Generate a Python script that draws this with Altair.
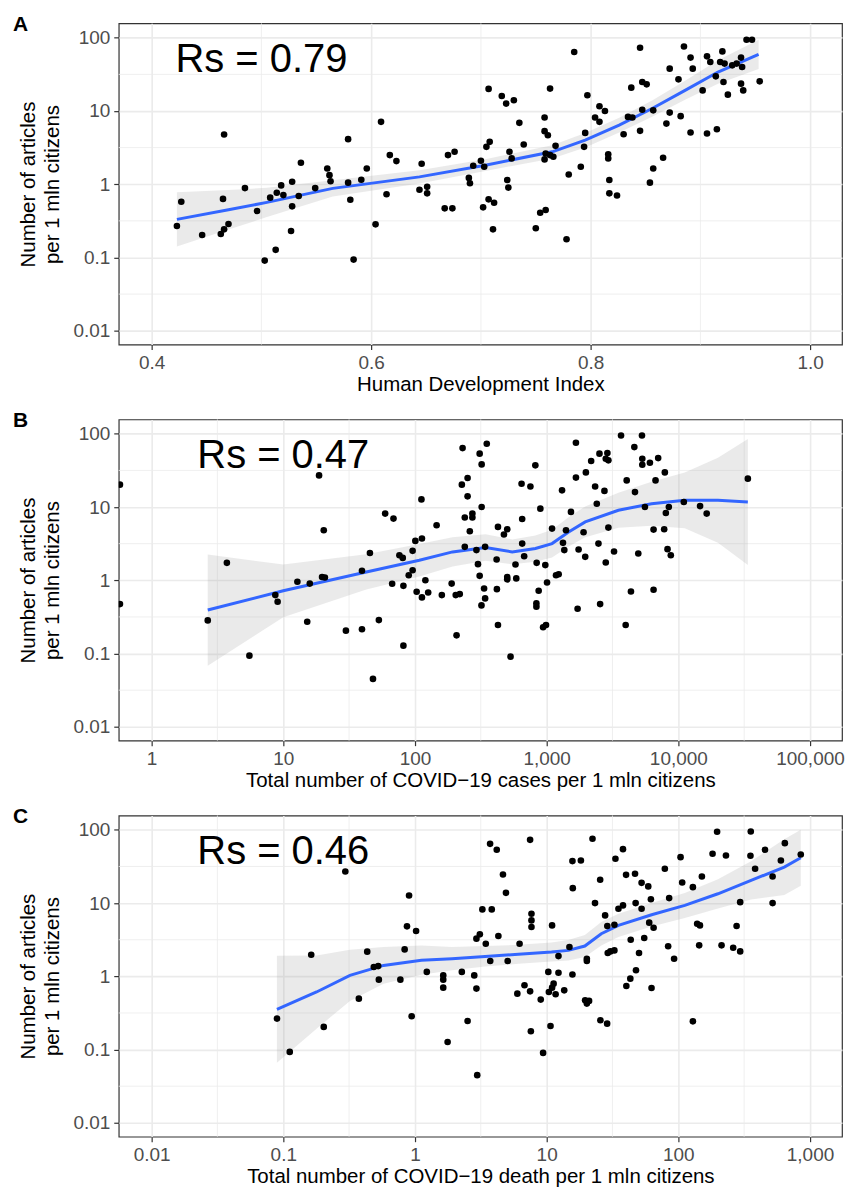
import altair as alt
import pandas as pd

FONT = "Liberation Sans"

# ---------------- Panel A: HDI ----------------
A_hdi = [0.423, 0.427, 0.446, 0.466, 0.465, 0.463, 0.466, 0.470, 0.485, 0.496, 0.503, 0.508, 0.513, 0.514,
         0.518, 0.520, 0.528, 0.528, 0.527, 0.534, 0.536, 0.549, 0.560, 0.562, 0.563, 0.579, 0.579, 0.581,
         0.584, 0.591, 0.596, 0.604, 0.609, 0.614, 0.617, 0.623, 0.646, 0.644, 0.651, 0.651,
         0.667, 0.674, 0.670, 0.676, 0.689, 0.690, 0.693, 0.700, 0.703, 0.702, 0.707, 0.712, 0.711, 0.707,
         0.705, 0.708, 0.719, 0.723, 0.730, 0.724, 0.726, 0.725, 0.728, 0.735, 0.739, 0.750, 0.754, 0.759,
         0.758, 0.758, 0.761, 0.763, 0.759, 0.758, 0.763, 0.766, 0.768, 0.778, 0.780, 0.785, 0.791, 0.794,
         0.795, 0.797, 0.804, 0.808, 0.808, 0.813, 0.816, 0.816, 0.817, 0.817, 0.824, 0.830, 0.834, 0.838,
         0.837, 0.845, 0.847, 0.851, 0.847, 0.845, 0.857, 0.854, 0.857, 0.866, 0.869, 0.872, 0.882, 0.872,
         0.880, 0.885, 0.891, 0.893, 0.891, 0.902, 0.906, 0.906, 0.909, 0.915, 0.914, 0.920, 0.918, 0.922,
         0.921, 0.925, 0.929, 0.933, 0.937, 0.938, 0.937, 0.939, 0.942, 0.947, 0.954]
A_art = [0.269, 0.577, 0.203, 4.77, 0.63, 0.209, 0.242, 0.286, 0.885, 0.43, 0.0906, 0.655, 0.127, 0.766,
         0.964, 0.711, 1.08, 0.499, 0.230, 0.69, 1.96, 0.885, 1.64, 1.33, 1.10, 4.12, 1.05, 0.614,
         0.0935, 1.15, 1.64, 0.283, 7.1, 0.73, 2.5, 2.07, 1.90, 0.84, 0.92, 0.75,
         0.468, 0.468, 2.5, 2.77, 1.22, 1.03, 1.79, 2.09, 1.73, 0.483, 0.621, 0.559, 0.242, 20.0,
         3.24, 3.79, 16.0, 12.6, 14.0, 1.14, 2.77, 0.90, 2.25, 6.88, 3.48, 0.25, 0.408, 0.444,
         8.13, 5.3, 4.67, 20.2, 2.63, 2.18, 2.5, 2.37, 3.34, 0.177, 1.36, 63.8, 1.73, 3.24,
         5.02, 16.4, 8.13, 7.1, 11.6, 10.0, 2.57, 2.25, 1.14, 0.75, 0.70, 4.82, 8.3, 8.13,
         20.8, 73.0, 24.9, 23.1, 10.4, 5.35, 10.2, 1.05, 1.64, 2.30, 6.73, 9.5, 8.5, 37.8,
         27.0, 76.0, 53.5, 37.8, 5.08, 19.1, 4.92, 55.7, 46.6, 5.64, 29.7, 65.0, 46.6, 44.3,
         24.9, 16.7, 42.0, 44.3, 53.5, 39.8, 23.6, 19.1, 94.0, 94.0, 25.4]
A_fit_x = [0.423, 0.47, 0.505, 0.565, 0.644, 0.704, 0.765, 0.795, 0.826, 0.856, 0.886, 0.916, 0.953]
A_fit_y = [0.331, 0.447, 0.565, 0.877, 1.26, 1.82, 2.77, 4.0, 6.4, 10.8, 19.1, 34.0, 59.3]
A_fit_lo = [0.141, 0.240, 0.356, 0.681, 1.02, 1.52, 2.25, 3.17, 5.08, 8.37, 14.2, 23.6, 37.4]
A_fit_hi = [0.776, 0.832, 0.895, 1.13, 1.55, 2.19, 3.40, 5.02, 8.05, 13.9, 25.8, 49.2, 94.0]

# ---------------- Panel B: cases ----------------
B_cases = [0.575, 0.575, 2.67, 3.73, 5.53, 8.7, 9.06, 12.8, 15.9, 15.2, 18.7, 20.3, 19.7, 20.7, 29.9, 39.6,
           39.6, 45.5, 48, 53.2, 59.4, 68.7, 67.1, 76.2, 80.8, 81.7, 81.7, 89.7, 96, 96, 100.7, 113, 112,
           120, 103, 113, 126,
           146, 160, 190, 207, 204, 219, 230, 227, 251, 251, 239, 273, 273, 261, 239, 293, 301, 310, 351,
           321, 321, 310, 335, 341, 320, 341, 417, 419, 427, 427, 474, 502, 502, 502, 532, 580, 588, 645,
           652, 652, 675, 753, 821, 840, 870, 836, 836, 896, 977, 1007, 940, 989, 1099, 1178, 1234, 1309,
           1331, 1362, 1403, 1530, 1669, 1669, 1718, 1749, 1907, 1963, 1986, 2178, 2335, 2404, 2475, 2548,
           2518, 2748, 2812, 2893, 2812, 2944, 2944, 3250, 3673, 3983, 4055, 4368, 4634, 4687, 4966, 5297,
           5327, 5327, 5577, 6083, 7031, 6714, 6486, 6486, 7811, 7902, 8040, 8472, 8278, 8770, 11010,
           14630, 16420, 33730]
B_art = [20.2, 0.473, 0.283, 1.73, 0.0935, 0.627, 0.509, 0.953, 0.90, 0.272, 27.0, 4.82, 1.11, 1.09, 0.205,
         0.214, 1.35, 2.36, 0.045, 0.286, 8.13, 6.95, 0.896, 2.20, 2.02, 0.84, 0.128, 1.17, 1.37, 2.52,
         3.45, 3.71, 12.7, 1.0, 0.697, 0.583, 0.682,
         5.64, 0.627, 0.90, 0.177, 0.627, 0.647, 63.8, 20.2, 24.9, 14.0, 7.18, 8.13, 7.18, 4.67, 2.86,
         2.58, 1.66, 53.5, 73.0, 38.2, 10.0, 1.15, 0.773, 0.565, 0.454, 2.86, 1.92, 0.757, 0.245, 5.35,
         4.21, 4.98, 1.11, 1.03, 0.0906, 1.64, 1.06, 20.8, 6.87, 3.17, 2.13, 19.1, 37.1, 1.73, 0.718,
         0.483, 0.435, 9.5, 1.61, 0.933, 0.228, 0.245, 5.08, 1.17, 1.21, 16.9, 3.24, 2.58, 4.82, 8.57,
         75.4, 25.2, 0.408, 2.63, 4.53, 2.09, 29.7, 42.5, 19.1, 11.1, 3.17, 0.473, 53.5, 16.6, 1.75,
         54.6, 45.6, 43.4, 5.24, 2.47, 94.8, 0.245, 23.1, 0.703, 65.8, 16.0, 2.32, 94.8, 45.6, 37.8,
         10.0, 40.3, 46.6, 23.1, 4.92, 0.741, 4.98, 29.7, 8.3, 10.0, 2.66, 2.2, 11.7, 10.3, 8.13, 24.4]
B_fit_x = [2.67, 10, 42.7, 108, 193, 344, 548, 822, 1099, 1469, 1963, 3508, 6266, 11194, 20000, 33730]
B_fit_y = [0.392, 0.718, 1.30, 1.88, 2.44, 2.80, 2.44, 2.71, 3.17, 4.57, 6.27, 9.04, 11.1, 12.4, 12.4, 11.7]
B_fit_lo = [0.068, 0.313, 0.750, 1.13, 1.54, 1.85, 1.65, 1.79, 2.05, 2.88, 3.86, 5.20, 5.57, 5.15, 3.25, 1.62]
B_fit_hi = [2.25, 1.64, 2.26, 3.12, 3.87, 4.24, 3.61, 4.10, 4.91, 7.24, 10.2, 15.7, 22.2, 29.6, 47.0, 84.9]

# ---------------- Panel C: deaths ----------------
C_deaths = [0.0896, 0.112, 0.163, 0.203, 0.296, 0.375, 0.434, 0.487, 0.526, 0.532, 0.775, 0.835, 0.870,
            0.902, 0.944, 1.02, 1.23,
            1.64, 1.64, 1.64, 1.77, 2.27, 2.51, 2.82, 2.93, 2.97, 2.93, 3.11, 3.25, 3.45, 3.72, 3.83, 4.18,
            3.73, 4.30, 4.66, 4.91, 5.06, 5.99, 6.23, 6.79, 7.49, 7.49, 7.59, 7.67, 7.67, 7.67, 9.02, 9.40,
            10.3, 10.4, 10.7, 11.0, 11.0, 11.3, 11.7, 12.3, 12.3, 13.6, 14.9, 15.7, 18.2, 15.8, 15.7, 19.6,
            20.2, 21.0, 20.2, 20.2, 22.3, 23.3, 25.5, 25.6, 28.8, 27.8, 28.9, 29.1, 30.5, 32.7, 32.7, 33.3,
            35.1, 38.0, 38.0, 40.1, 40.3, 43.2, 43.5, 46.9, 47.4, 47.7, 50.3, 52.6, 52.6, 55.1, 59.1, 60.1,
            62.6, 61.9, 64.9, 79, 83.7, 85.2, 92.9, 104, 107, 129, 129, 139, 146, 144, 151, 182, 197, 213,
            230, 261, 277, 295, 295, 355, 353, 383, 455, 520, 520, 601, 644, 851]
C_art = [0.265, 0.093, 1.97, 0.204, 27.0, 0.496, 2.17, 1.34, 1.38, 0.90, 0.90, 2.33, 4.81, 12.7, 0.285,
         4.15, 1.15,
         1.03, 0.90, 0.70, 0.127, 1.15, 0.246, 1.03, 0.68, 0.0447, 3.27, 3.74, 8.2, 2.79, 64.4, 8.2, 53.4,
         1.62, 3.55, 24.6, 13.8, 1.62, 0.58, 2.79, 0.754, 0.624, 73.0, 0.178, 7.16, 5.8, 4.71, 0.481, 0.090,
         1.15, 0.611, 0.21, 4.96, 0.70, 0.794, 0.569, 1.89, 1.12, 0.644, 2.51, 37.4, 38.2, 16.0, 1.06, 0.471,
         0.424, 0.462, 1.74, 1.62, 75.4, 10.0, 20.8, 0.251, 0.226, 6.79, 4.86, 2.08, 2.19, 2.26, 5.07, 40.3,
         8.37, 9.29, 54.5, 24.3, 0.738, 0.93, 3.16, 25.1, 10.0, 1.21, 2.08, 18.9, 8.37, 3.33, 16.9, 5.4,
         0.693, 11.3, 4.61, 29.4, 2.57, 11.7, 1.74, 42.4, 19.1, 16.5, 0.243, 5.22, 4.96, 2.65, 23.1, 47.1,
         94.0, 2.65, 44.7, 2.46, 4.86, 10.3, 2.19, 94.8, 44.2, 29.4, 53.4, 23.1, 10.0, 38.2, 65.8, 46.1]
C_fit_x = [0.0895, 0.179, 0.321, 0.577, 1.12, 1.91, 3.41, 6.10, 10.9, 14.6, 19.5, 26.0, 35.1, 62.7, 112,
           200, 357, 638, 851]
C_fit_y = [0.355, 0.611, 1.03, 1.41, 1.66, 1.74, 1.87, 2.0, 2.15, 2.26, 2.59, 3.82, 4.95, 6.93, 9.29,
           13.4, 20.4, 31.0, 41.5]
C_fit_lo = [0.066, 0.193, 0.461, 0.794, 1.05, 1.21, 1.36, 1.48, 1.59, 1.64, 1.84, 2.64, 3.43, 4.80, 6.28,
            8.45, 11.2, 12.9, 17.3]
C_fit_hi = [1.91, 1.93, 2.31, 2.51, 2.63, 2.52, 2.59, 2.69, 2.90, 3.13, 3.66, 5.52, 7.16, 10.0, 13.7,
            21.2, 37.1, 74.3, 100.0]

# ---------------- axes / grids ----------------
Y_TICKS = [0.01, 0.1, 1, 10, 100]
Y_MINOR = [0.0316, 0.316, 3.16, 31.6]
Y_DOMAIN = [0.00646, 157]

A_XTICKS = [0.4, 0.6, 0.8, 1.0]
A_XMINOR = [0.5, 0.7, 0.9]
A_XDOMAIN = [0.370, 1.029]
B_XTICKS = [1, 10, 100, 1000, 10000, 100000]
B_XMINOR = [3.16, 31.6, 316, 3162, 31623]
B_XDOMAIN = [0.563, 175000]
C_XTICKS = [0.01, 0.1, 1, 10, 100, 1000]
C_XMINOR = [0.0316, 0.316, 3.16, 31.6, 316]
C_XDOMAIN = [0.00563, 1750]

W, H = 725, 322


def panel(letter, xs, ys, fx, fy, flo, fhi, xticks, xminor, xdomain, xlog, xfmt, xtitle, rs_x, rs_text):
    xscale = alt.Scale(type="log", domain=xdomain, nice=False) if xlog else \
        alt.Scale(domain=xdomain, nice=False, zero=False)
    yscale = alt.Scale(type="log", domain=Y_DOMAIN, nice=False)
    xaxis = alt.Axis(values=xticks, format=xfmt, title=xtitle)
    yaxis = alt.Axis(values=Y_TICKS, format="~g", title=["Number of articles", "per 1 mln citizens"])

    def X(f):
        return alt.X(f, scale=xscale, axis=xaxis)

    def Y(f):
        return alt.Y(f, scale=yscale, axis=yaxis)

    pts = pd.DataFrame({"x": xs, "y": ys})
    fit = pd.DataFrame({"x": fx, "y": fy, "lo": flo, "hi": fhi})

    vminor = alt.Chart(pd.DataFrame({"v": xminor})).mark_rule(color="#EBEBEB", strokeWidth=0.8).encode(
        x=X("v:Q"))
    hminor = alt.Chart(pd.DataFrame({"v": Y_MINOR})).mark_rule(color="#EBEBEB", strokeWidth=0.8).encode(
        y=Y("v:Q"))
    band = alt.Chart(fit).mark_area(color="#A0A0A0", opacity=0.22).encode(
        x=X("x:Q"), y=Y("lo:Q"), y2="hi:Q")
    line = alt.Chart(fit).mark_line(color="#3366FF", strokeWidth=3).encode(
        x=X("x:Q"), y=Y("y:Q"))
    dots = alt.Chart(pts).mark_circle(size=44, color="black", opacity=1, clip=True).encode(
        x=X("x:Q"), y=Y("y:Q"))
    rs = alt.Chart(pd.DataFrame({"x": [rs_x], "y": [50], "t": [rs_text]})).mark_text(
        fontSize=40, font=FONT, color="black", align="center", baseline="middle").encode(
        x=X("x:Q"), y=Y("y:Q"), text="t:N")
    lab = alt.Chart(pd.DataFrame({"t": [letter]})).mark_text(
        fontSize=21, font=FONT, fontWeight="bold", color="black", align="left", baseline="middle").encode(
        x=alt.value(-106), y=alt.value(2), text="t:N")

    return alt.layer(vminor, hminor, band, line, dots, rs, lab).properties(width=W, height=H)


pA = panel("A", A_hdi, A_art, A_fit_x, A_fit_y, A_fit_lo, A_fit_hi, A_XTICKS, A_XMINOR, A_XDOMAIN,
           False, ".1f", "Human Development Index", 0.5, "Rs = 0.79")
pB = panel("B", B_cases, B_art, B_fit_x, B_fit_y, B_fit_lo, B_fit_hi, B_XTICKS, B_XMINOR, B_XDOMAIN,
           True, ",~g", "Total number of COVID\u221219 cases per 1 mln citizens", 10, "Rs = 0.47")
pC = panel("C", C_deaths, C_art, C_fit_x, C_fit_y, C_fit_lo, C_fit_hi, C_XTICKS, C_XMINOR, C_XDOMAIN,
           True, ",~g", "Total number of COVID\u221219 death per 1 mln citizens", 0.1, "Rs = 0.46")

chart = alt.vconcat(pA, pB, pC, spacing=13).configure_view(
    stroke="#333333", strokeWidth=1.2
).configure_axis(
    grid=True, gridColor="#EBEBEB", gridWidth=1.6,
    domain=False, tickColor="#333333", tickSize=5, tickWidth=1.2,
    labelFont=FONT, labelFontSize=19, labelColor="#4D4D4D", labelPadding=4,
    titleFont=FONT, titleFontSize=20.5, titleColor="black", titleFontWeight="normal",
    titleLineHeight=24, labelFlush=False, labelOverlap=False
).configure_axisY(titlePadding=10).configure_axisX(titlePadding=2).properties(
    background="white", padding={"left": 4, "top": 4, "right": 0, "bottom": 0}
)

chart.save("out.html", embed_options={"renderer": "svg", "actions": False})
